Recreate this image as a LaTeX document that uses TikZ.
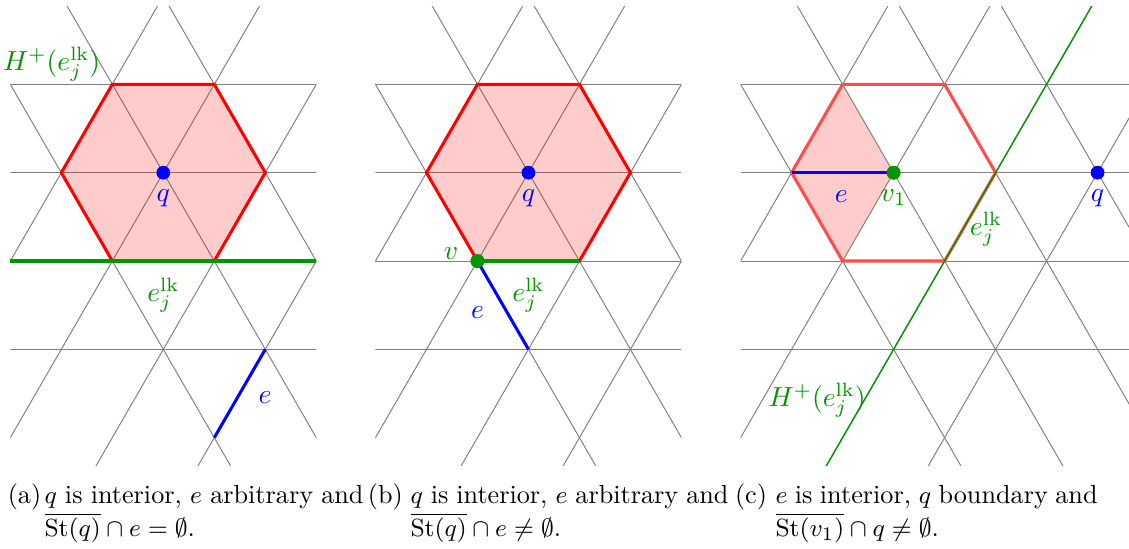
\documentclass[tikz,border=0pt]{standalone}
\usetikzlibrary{positioning}
\definecolor{hgreen}{RGB}{0,150,0}

\begin{document}
\begin{tikzpicture}[x=1.3cm,y=1.3cm,
  grid/.style={gray,line width=0.35pt},
  hexline/.style={red,line width=1.1pt},
  thickedge/.style={line width=1.1pt},
  dot/.style={circle,inner sep=0pt,minimum size=5pt},
  capfont/.style={inner sep=0pt,font=\fontsize{9.5}{11.5}\selectfont}]
\useasboundingbox (-1.601,-3.689) rectangle (9.468,1.693);

% (a) q interior, e far away
\begin{scope}
\clip (-1.5,-2.866) rectangle (1.5,1.634);
\foreach \r in {1,0,-1,-2} \draw[grid] (-1.5,{0.866*\r}) -- (1.5,{0.866*\r});
\foreach \a in {-1,0,1} \draw[grid] ({\a-1},1.732) -- ({\a+2},-3.464);
\foreach \b in {-1,0,1,2} \draw[grid] ({\b+1},1.732) -- ({\b-2},-3.464);
\end{scope}
\fill[red,fill opacity=0.2] (-1,0) -- (-0.5,0.866) -- (0.5,0.866) -- (1,0) -- (0.5,-0.866) -- (-0.5,-0.866) -- cycle;
\draw[hexline] (-1,0) -- (-0.5,0.866) -- (0.5,0.866) -- (1,0) -- (0.5,-0.866) -- (-0.5,-0.866) -- cycle;
\draw[hgreen,thickedge] (-1.5,-0.866) -- (1.5,-0.866);
\draw[blue,thickedge] (0.5,-2.598) -- (1,-1.732);
\node[dot,fill=blue] (qa) at (0,0) {};
\node[blue,below=0pt of qa] (qlaba) {$q$};
\node[hgreen] (hlaba) at (-1.094,1.067) {$H^{+}(e_j^{\mathrm{lk}})$};
\node[hgreen] (elklaba) at (0,-1.204) {$e_j^{\mathrm{lk}}$};
\node[blue] (elaba) at (0.997,-2.204) {$e$};

% (b) q interior, e touches the star
\begin{scope}[shift={(3.58,0)}]
\begin{scope}
\clip (-1.5,-2.866) rectangle (1.5,1.634);
\foreach \r in {1,0,-1,-2} \draw[grid] (-1.5,{0.866*\r}) -- (1.5,{0.866*\r});
\foreach \a in {-1,0,1} \draw[grid] ({\a-1},1.732) -- ({\a+2},-3.464);
\foreach \b in {-1,0,1,2} \draw[grid] ({\b+1},1.732) -- ({\b-2},-3.464);
\end{scope}
\fill[red,fill opacity=0.2] (-1,0) -- (-0.5,0.866) -- (0.5,0.866) -- (1,0) -- (0.5,-0.866) -- (-0.5,-0.866) -- cycle;
\draw[hexline] (-1,0) -- (-0.5,0.866) -- (0.5,0.866) -- (1,0) -- (0.5,-0.866) -- (-0.5,-0.866) -- cycle;
\node[dot,fill=hgreen] (vb) at (-0.5,-0.866) {};
\coordinate (wb) at (0.5,-0.866);
\coordinate (eb) at (0,-1.732);
\draw[hgreen,thickedge] (vb.center) -- (wb);
\draw[blue,thickedge] (vb.center) -- (eb);
\node[dot,fill=hgreen] at (vb) {};
\node[dot,fill=blue] (qb) at (0,0) {};
\node[blue,below=0pt of qb] (qlabb) {$q$};
\node[hgreen] (vlabb) at (-0.76,-0.79) {$v$};
\node[hgreen] (elklabb) at (0,-1.204) {$e_j^{\mathrm{lk}}$};
\node[blue] (elabb) at (-0.498,-1.37) {$e$};
\end{scope}

% (c) e interior, q on the boundary
\begin{scope}[shift={(7.16,0)}]
\fill[red,fill opacity=0.2] (-1,0) -- (-0.5,0.866) -- (0,0) -- (-0.5,-0.866) -- cycle;
\begin{scope}
\clip (-1.5,-2.866) rectangle (2.31,1.634);
\foreach \r in {1,0,-1,-2} \draw[grid] (-1.5,{0.866*\r}) -- (2.31,{0.866*\r});
\foreach \a in {-1,0,1,2} \draw[grid] ({\a-1},1.732) -- ({\a+2},-3.464);
\foreach \b in {-1,0,1,2} \draw[grid] ({\b+1},1.732) -- ({\b-2},-3.464);
\draw[red!70,line width=1.1pt] (-1,0) -- (-0.5,0.866) -- (0.5,0.866) -- (1,0) -- (0.5,-0.866) -- (-0.5,-0.866) -- cycle;
\draw[hgreen,line width=0.5pt] (2,1.732) -- (-1,-3.464);
\end{scope}
\node[dot,fill=hgreen] (vc) at (0,0) {};
\coordinate (uc) at (-1,0);
\draw[blue,thickedge] (uc) -- (vc.center);
\node[dot,fill=hgreen] at (vc) {};
\node[dot,fill=blue] (qc) at (2,0) {};
\node[blue,below=0pt of qc] (qlabc) {$q$};
\node[hgreen,below=0pt of vc] (vlabc) {$v_1$};
\node[blue] (elabc) at (-0.514,-0.235) {$e$};
\node[hgreen] (elklabc) at (0.906,-0.554) {$e_j^{\mathrm{lk}}$};
\node[hgreen] (hlabc) at (-0.75,-2.23) {$H^{+}(e_j^{\mathrm{lk}})$};
\end{scope}

% captions
\node[capfont,anchor=base west] (capa) at (-1.530,-3.248) {(a)};
\node[capfont,anchor=base west] (capa1) at (-1.170,-3.248) {\makebox[115.7pt][s]{$q$ is interior, $e$ arbitrary and}};
\node[capfont,anchor=base west] (capa2) at (-1.170,-3.571) {$\overline{\mathrm{St}(q)}\cap e=\emptyset$.};
\node[capfont,anchor=base west] (capb) at (2.000,-3.248) {(b)};
\node[capfont,anchor=base west] (capb1) at (2.419,-3.248) {\makebox[115.3pt][s]{$q$ is interior, $e$ arbitrary and}};
\node[capfont,anchor=base west] (capb2) at (2.419,-3.571) {$\overline{\mathrm{St}(q)}\cap e\neq\emptyset$.};
\node[capfont,anchor=base west] (capc) at (5.600,-3.248) {(c)};
\node[capfont,anchor=base west] (capc1) at (5.997,-3.248) {\makebox[116.8pt][s]{$e$ is interior, $q$ boundary and}};
\node[capfont,anchor=base west] (capc2) at (5.997,-3.571) {$\overline{\mathrm{St}(v_1)}\cap q\neq\emptyset$.};
\end{tikzpicture}
\end{document}
